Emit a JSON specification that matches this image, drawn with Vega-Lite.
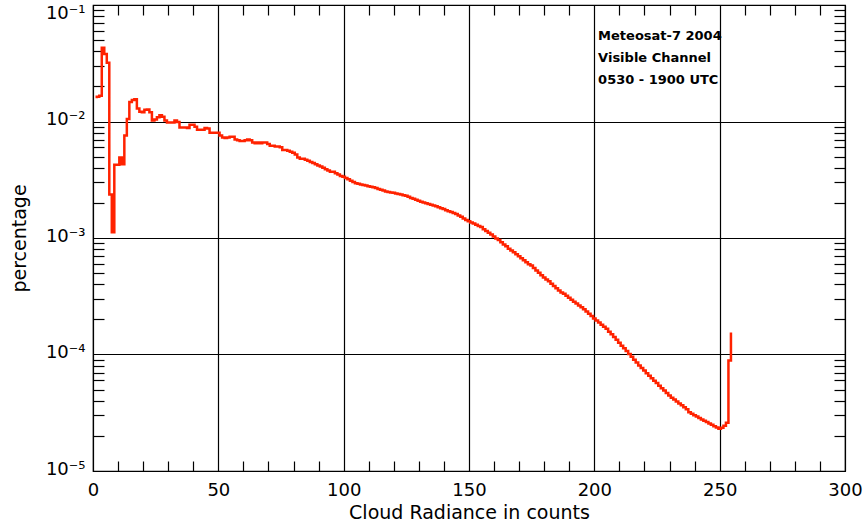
{
  "$schema": "https://vega.github.io/schema/vega-lite/v6.json",
  "width": 752,
  "height": 466,
  "autosize": {"type": "none"},
  "padding": {"left": 93, "top": 5, "right": 21, "bottom": 56},
  "background": "white",
  "config": {"view": {"stroke": "black", "strokeWidth": 1.2}, "font": "DejaVu Sans"},
  "datasets": {
    "hist": [
      {"c":1,"p":0.0162},{"c":2,"p":0.0163},{"c":3,"p":0.0166},{"c":4,"p":0.043},{"c":5,"p":0.038},
      {"c":6,"p":0.032},{"c":7,"p":0.00236},{"c":8,"p":0.00112},{"c":9,"p":0.00425},{"c":10,"p":0.00425},
      {"c":11,"p":0.0049},{"c":12,"p":0.0043},{"c":13,"p":0.0076},{"c":14,"p":0.0105},{"c":15,"p":0.0147},
      {"c":16,"p":0.0153},{"c":17,"p":0.0155},{"c":18,"p":0.0129},{"c":19,"p":0.0121},{"c":20,"p":0.012},
      {"c":21,"p":0.0126},{"c":22,"p":0.0127},{"c":23,"p":0.012},{"c":24,"p":0.0102},{"c":25,"p":0.0104},
      {"c":26,"p":0.0109},{"c":27,"p":0.0113},{"c":28,"p":0.011},{"c":29,"p":0.0102},{"c":30,"p":0.0098},
      {"c":31,"p":0.0098},{"c":32,"p":0.0098},{"c":33,"p":0.0102},{"c":34,"p":0.0099},{"c":35,"p":0.0089},
      {"c":36,"p":0.0089},{"c":37,"p":0.0089},{"c":38,"p":0.0088},{"c":39,"p":0.0094},{"c":40,"p":0.0094},
      {"c":41,"p":0.009},{"c":42,"p":0.0085},{"c":43,"p":0.0085},{"c":44,"p":0.0085},{"c":45,"p":0.0088},
      {"c":46,"p":0.0087},{"c":47,"p":0.008},{"c":48,"p":0.008},{"c":49,"p":0.008},{"c":50,"p":0.008},
      {"c":51,"p":0.0076},{"c":52,"p":0.0073},{"c":53,"p":0.0072},{"c":54,"p":0.0073},{"c":55,"p":0.0074},
      {"c":56,"p":0.0074},{"c":57,"p":0.007},{"c":58,"p":0.0069},{"c":59,"p":0.0068},{"c":60,"p":0.0068},
      {"c":61,"p":0.0069},{"c":62,"p":0.007},{"c":63,"p":0.0069},{"c":64,"p":0.0066},{"c":65,"p":0.0065},
      {"c":66,"p":0.0066},{"c":67,"p":0.0065},{"c":68,"p":0.0066},{"c":69,"p":0.0066},{"c":70,"p":0.0064},
      {"c":71,"p":0.0062},{"c":72,"p":0.0062},{"c":73,"p":0.0061},{"c":74,"p":0.0061},{"c":75,"p":0.006},
      {"c":76,"p":0.0057},{"c":77,"p":0.0057},{"c":78,"p":0.0056},{"c":79,"p":0.0055},{"c":80,"p":0.0054},
      {"c":81,"p":0.0052},{"c":82,"p":0.0049},{"c":83,"p":0.0048},{"c":84,"p":0.0048},{"c":85,"p":0.0047},
      {"c":86,"p":0.0046},{"c":87,"p":0.0045},{"c":88,"p":0.0044},{"c":89,"p":0.0043},{"c":90,"p":0.0042},
      {"c":91,"p":0.0041},{"c":92,"p":0.004},{"c":93,"p":0.0039},{"c":94,"p":0.0038},{"c":95,"p":0.0037},
      {"c":96,"p":0.0037},{"c":97,"p":0.0036},{"c":98,"p":0.0035},{"c":99,"p":0.0034},{"c":100,"p":0.00335},
      {"c":101,"p":0.00328},{"c":102,"p":0.0032},{"c":103,"p":0.0031},{"c":104,"p":0.00302},{"c":105,"p":0.00295},
      {"c":106,"p":0.00292},{"c":107,"p":0.00288},{"c":108,"p":0.00285},{"c":109,"p":0.00282},{"c":110,"p":0.00278},
      {"c":111,"p":0.00275},{"c":112,"p":0.00273},{"c":113,"p":0.00268},{"c":114,"p":0.00264},{"c":115,"p":0.0026},
      {"c":116,"p":0.00256},{"c":117,"p":0.00251},{"c":118,"p":0.00248},{"c":119,"p":0.00246},{"c":120,"p":0.00244},
      {"c":121,"p":0.00241},{"c":122,"p":0.00239},{"c":123,"p":0.00236},{"c":124,"p":0.00233},{"c":125,"p":0.00231},
      {"c":126,"p":0.00226},{"c":127,"p":0.00221},{"c":128,"p":0.00217},{"c":129,"p":0.00213},{"c":130,"p":0.00209},
      {"c":131,"p":0.00205},{"c":132,"p":0.00202},{"c":133,"p":0.00199},{"c":134,"p":0.00196},{"c":135,"p":0.00193},
      {"c":136,"p":0.0019},{"c":137,"p":0.00187},{"c":138,"p":0.00184},{"c":139,"p":0.0018},{"c":140,"p":0.00177},
      {"c":141,"p":0.00173},{"c":142,"p":0.0017},{"c":143,"p":0.00167},{"c":144,"p":0.00164},{"c":145,"p":0.00161},
      {"c":146,"p":0.00156},{"c":147,"p":0.00152},{"c":148,"p":0.00147},{"c":149,"p":0.00143},{"c":150,"p":0.00139},
      {"c":151,"p":0.00136},{"c":152,"p":0.00133},{"c":153,"p":0.0013},{"c":154,"p":0.00127},{"c":155,"p":0.00124},
      {"c":156,"p":0.00119},{"c":157,"p":0.00115},{"c":158,"p":0.00111},{"c":159,"p":0.00107},{"c":160,"p":0.00103},
      {"c":161,"p":0.00099},{"c":162,"p":0.00096},{"c":163,"p":0.00092},{"c":164,"p":0.00088},{"c":165,"p":0.00085},
      {"c":166,"p":0.00081},{"c":167,"p":0.00078},{"c":168,"p":0.000755},{"c":169,"p":0.000726},{"c":170,"p":0.000697},
      {"c":171,"p":0.00067},{"c":172,"p":0.000643},{"c":173,"p":0.000618},{"c":174,"p":0.000594},{"c":175,"p":0.00058},
      {"c":176,"p":0.000553},{"c":177,"p":0.000527},{"c":178,"p":0.000503},{"c":179,"p":0.00048},{"c":180,"p":0.000457},
      {"c":181,"p":0.00044},{"c":182,"p":0.000425},{"c":183,"p":0.000405},{"c":184,"p":0.000387},{"c":185,"p":0.00037},
      {"c":186,"p":0.000354},{"c":187,"p":0.00034},{"c":188,"p":0.000332},{"c":189,"p":0.000319},{"c":190,"p":0.000307},
      {"c":191,"p":0.000295},{"c":192,"p":0.000284},{"c":193,"p":0.000274},{"c":194,"p":0.000264},{"c":195,"p":0.000255},
      {"c":196,"p":0.000245},{"c":197,"p":0.000234},{"c":198,"p":0.000224},{"c":199,"p":0.000214},{"c":200,"p":0.000204},
      {"c":201,"p":0.000196},{"c":202,"p":0.000188},{"c":203,"p":0.00018},{"c":204,"p":0.000173},{"c":205,"p":0.000166},
      {"c":206,"p":0.000157},{"c":207,"p":0.000149},{"c":208,"p":0.000141},{"c":209,"p":0.000134},{"c":210,"p":0.000126},
      {"c":211,"p":0.000119},{"c":212,"p":0.000113},{"c":213,"p":0.000107},{"c":214,"p":0.000101},{"c":215,"p":0.0000955},
      {"c":216,"p":0.0000902},{"c":217,"p":0.0000853},{"c":218,"p":0.0000805},{"c":219,"p":0.0000765},{"c":220,"p":0.0000728},
      {"c":221,"p":0.0000692},{"c":222,"p":0.0000658},{"c":223,"p":0.0000626},{"c":224,"p":0.0000595},{"c":225,"p":0.0000568},
      {"c":226,"p":0.000054},{"c":227,"p":0.0000514},{"c":228,"p":0.000049},{"c":229,"p":0.0000467},{"c":230,"p":0.0000445},
      {"c":231,"p":0.0000425},{"c":232,"p":0.000041},{"c":233,"p":0.0000395},{"c":234,"p":0.000038},{"c":235,"p":0.0000366},
      {"c":236,"p":0.0000352},{"c":237,"p":0.0000339},{"c":238,"p":0.000032},{"c":239,"p":0.000031},{"c":240,"p":0.0000301},
      {"c":241,"p":0.0000293},{"c":242,"p":0.0000285},{"c":243,"p":0.0000277},{"c":244,"p":0.000027},{"c":245,"p":0.0000263},
      {"c":246,"p":0.0000256},{"c":247,"p":0.0000249},{"c":248,"p":0.0000242},{"c":249,"p":0.0000236},{"c":250,"p":0.000023},
      {"c":251,"p":0.0000235},{"c":252,"p":0.0000245},{"c":253,"p":0.000026},{"c":254,"p":0.0000887},{"c":255,"p":0.000151}
    ],
    "notes": [
      {"x":201.5,"y":0.0547,"label":"Meteosat-7 2004"},
      {"x":201.5,"y":0.0351,"label":"Visible Channel"},
      {"x":201.5,"y":0.0225,"label":"0530 - 1900 UTC"}
    ]
  },
  "layer": [
    {
      "data": {"name": "hist"},
      "mark": {"type": "line", "interpolate": "step", "color": "#ff2200", "strokeWidth": 2.5},
      "encoding": {
        "x": {
          "field": "c", "type": "quantitative",
          "scale": {"domain": [0, 300], "nice": false, "zero": false},
          "axis": {
            "orient": "bottom", "values": [0, 50, 100, 150, 200, 250, 300],
            "grid": true, "gridColor": "#000", "gridWidth": 1.2, "gridOpacity": 1,
            "ticks": false, "domain": false,
            "labelFontSize": 18, "labelColor": "#000", "labelPadding": 10, "labelFlush": false,
            "title": "Cloud Radiance in counts", "titleFontSize": 19, "titleFontWeight": "normal",
            "titleColor": "#000", "titlePadding": 4
          }
        },
        "y": {
          "field": "p", "type": "quantitative",
          "scale": {"type": "log", "domain": [0.00001, 0.1], "nice": false},
          "axis": {
            "orient": "left", "values": [0.00001, 0.0001, 0.001, 0.01, 0.1],
            "grid": true, "gridColor": "#000", "gridWidth": 1.2, "gridOpacity": 1,
            "ticks": false, "domain": false,
            "labelExpr": "datum.value > 0.05 ? '10⁻¹' : datum.value > 0.005 ? '10⁻²' : datum.value > 0.0005 ? '10⁻³' : datum.value > 0.00005 ? '10⁻⁴' : '10⁻⁵'",
            "labelFontSize": 18, "labelColor": "#000", "labelPadding": 8,
            "labelOffset": {"condition": {"test": "datum.value > 0.05", "value": 8}, "value": -2},
            "title": "percentage", "titleFontSize": 19, "titleFontWeight": "normal",
            "titleColor": "#000", "titlePadding": 16
          }
        }
      }
    },
    {
      "data": {"name": "hist"},
      "mark": {"type": "point", "opacity": 0},
      "encoding": {
        "x": {
          "field": "c", "type": "quantitative",
          "axis": {
            "orient": "bottom", "offset": -10,
            "values": [10,20,30,40,60,70,80,90,110,120,130,140,160,170,180,190,210,220,230,240,260,270,280,290],
            "grid": false, "domain": false, "labels": false, "title": null,
            "ticks": true, "tickSize": 10, "tickColor": "#000", "tickWidth": 1.2
          }
        },
        "y": {
          "field": "p", "type": "quantitative",
          "axis": {
            "orient": "left", "offset": -11,
            "values": [0.00002,0.00003,0.00004,0.00005,0.00006,0.00007,0.00008,0.00009,0.0002,0.0003,0.0004,0.0005,0.0006,0.0007,0.0008,0.0009,0.002,0.003,0.004,0.005,0.006,0.007,0.008,0.009,0.02,0.03,0.04,0.05,0.06,0.07,0.08,0.09],
            "grid": false, "domain": false, "labels": false, "title": null,
            "ticks": true, "tickSize": 11, "tickColor": "#000", "tickWidth": 1.2
          }
        }
      }
    },
    {
      "data": {"name": "hist"},
      "mark": {"type": "point", "opacity": 0},
      "encoding": {
        "x": {
          "field": "c", "type": "quantitative",
          "axis": {
            "orient": "top", "offset": -10,
            "values": [10,20,30,40,60,70,80,90,110,120,130,140,160,170,180,190,210,220,230,240,260,270,280,290],
            "grid": false, "domain": false, "labels": false, "title": null,
            "ticks": true, "tickSize": 10, "tickColor": "#000", "tickWidth": 1.2
          }
        },
        "y": {
          "field": "p", "type": "quantitative",
          "axis": {
            "orient": "right", "offset": -11,
            "values": [0.00002,0.00003,0.00004,0.00005,0.00006,0.00007,0.00008,0.00009,0.0002,0.0003,0.0004,0.0005,0.0006,0.0007,0.0008,0.0009,0.002,0.003,0.004,0.005,0.006,0.007,0.008,0.009,0.02,0.03,0.04,0.05,0.06,0.07,0.08,0.09],
            "grid": false, "domain": false, "labels": false, "title": null,
            "ticks": true, "tickSize": 11, "tickColor": "#000", "tickWidth": 1.2
          }
        }
      }
    },
    {
      "data": {"name": "notes"},
      "mark": {"type": "text", "align": "left", "baseline": "middle", "font": "DejaVu Sans", "fontWeight": "bold", "fontSize": 13, "color": "#000"},
      "encoding": {
        "x": {"field": "x", "type": "quantitative", "axis": null},
        "y": {"field": "y", "type": "quantitative", "axis": null},
        "text": {"field": "label"}
      }
    }
  ],
  "resolve": {"axis": {"x": "independent", "y": "independent"}}
}
